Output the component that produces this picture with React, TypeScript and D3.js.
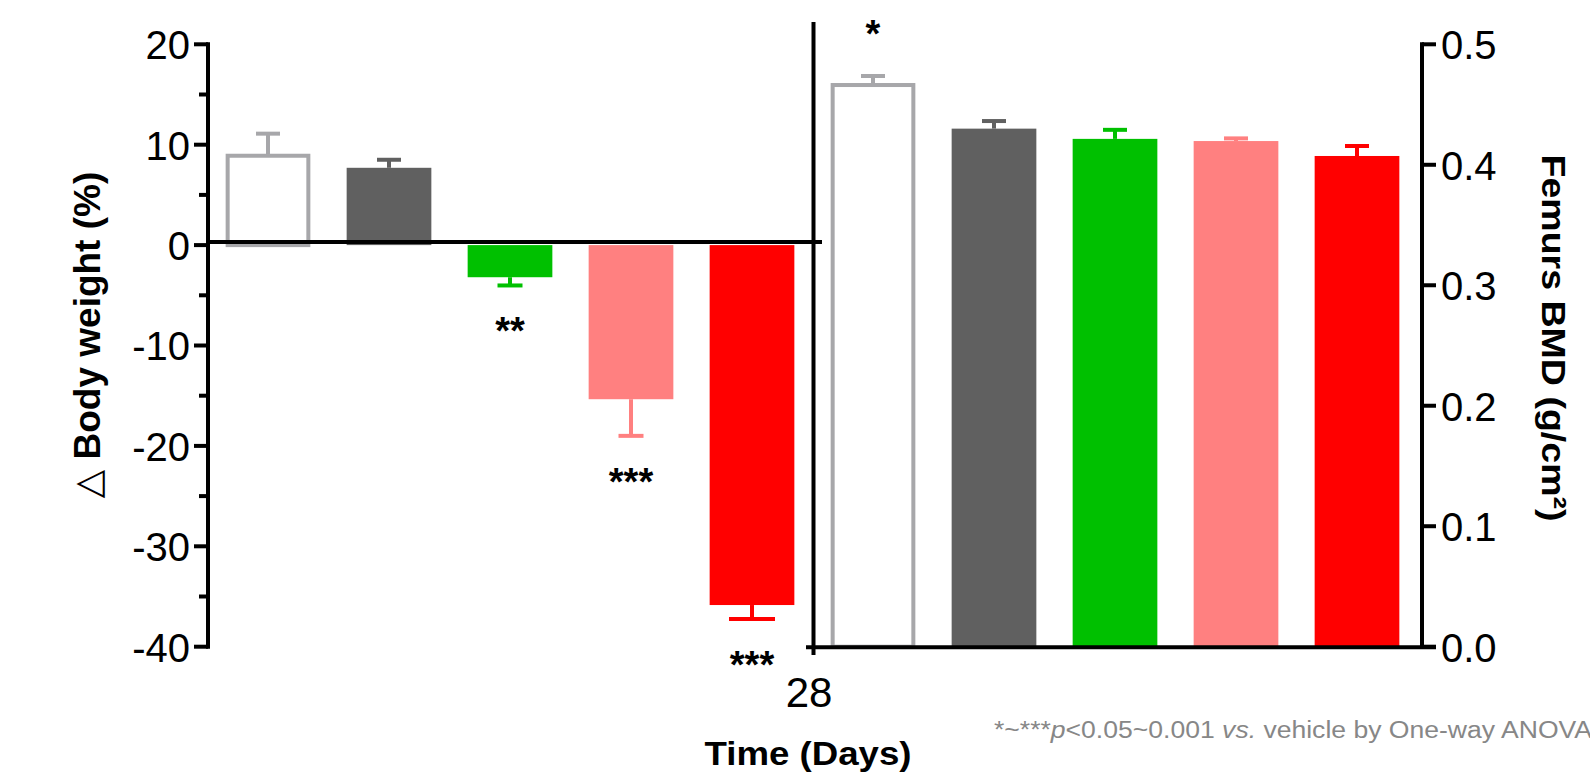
import React from "react";
import * as d3 from "d3";

// ---------- data ----------
const groups = ["Normal", "Vehicle", "Low dose", "Mid dose", "High dose"];
const groupColors = ["#a7a7aa", "#606060", "#00c000", "#ff8080", "#ff0000"];
const groupOutlined = [true, false, false, false, false];

const bodyWeightChange = [8.9, 7.7, -3.2, -15.35, -35.85];
const bodyWeightSem = [2.2, 0.8, 0.82, 3.65, 1.4];
const bodyWeightSig = ["", "", "**", "***", "***"];

const femurBmd = [0.4662, 0.43, 0.4215, 0.4197, 0.4073];
const femurBmdSem = [0.0075, 0.0063, 0.0075, 0.0022, 0.0083];
const femurBmdSig = ["*", "", "", "", ""];

const leftMajorTicks = [20, 10, 0, -10, -20, -30, -40];
const leftMinorTicks = [15, 5, -5, -15, -25, -35];
const rightTicks = [0.5, 0.4, 0.3, 0.2, 0.1, 0.0];
const timePointLabel = "28";

const leftCapWidths = [24, 24, 25, 25, 46];
const rightCapWidths = [24, 24, 24, 24, 24];

const FONT = "'Liberation Sans', Arial, Helvetica, sans-serif";

export default function App() {
  const W = 1590;
  const H = 779;
  const plotTop = 44.3;
  const plotBottom = 646.7;

  const yL = d3.scaleLinear().domain([-40, 20]).range([plotBottom, plotTop]);
  const yR = d3.scaleLinear().domain([0, 0.5]).range([plotBottom, plotTop]);
  const x = d3
    .scaleBand<number>()
    .domain(d3.range(10))
    .range([207.5, 1417.5])
    .paddingInner(0.3)
    .paddingOuter(0.15);
  const bw = x.bandwidth();

  const leftAxisX = 208;
  const rightAxisX = 1422;
  const dividerX = 813.5;
  const zeroY = yL(0) - 3;

  const sw = 4;

  const renderBar = (
    i: number,
    slot: number,
    value: number,
    err: number,
    base: number,
    yScale: d3.ScaleLinear<number, number>,
    capW: number
  ) => {
    const bx = x(slot) as number;
    const cx = bx + bw / 2;
    const yv = yScale(value);
    const ye = yScale(value >= 0 ? value + err : value - err);
    const color = groupColors[i];
    const top = Math.min(yv, base);
    const h = Math.abs(base - yv);
    return (
      <g key={`bar-${slot}`}>
        <line x1={cx} x2={cx} y1={yv} y2={ye} stroke={color} strokeWidth={sw} />
        <line
          x1={cx - capW / 2}
          x2={cx + capW / 2}
          y1={ye}
          y2={ye}
          stroke={color}
          strokeWidth={sw}
        />
        {groupOutlined[i] ? (
          <rect
            x={bx + sw / 2}
            y={top}
            width={bw - sw}
            height={h}
            fill="#ffffff"
            stroke={color}
            strokeWidth={sw}
          />
        ) : (
          <rect x={bx} y={top} width={bw} height={h} fill={color} />
        )}
      </g>
    );
  };

  return (
    <svg
      width={W}
      height={H}
      viewBox={`0 0 ${W} ${H}`}
      style={{ position: "absolute", left: 0, top: 0, background: "#ffffff" }}
      fontFamily={FONT}
    >
      <rect x={0} y={0} width={W} height={H} fill="#ffffff" />

      {/* left panel bars */}
      {groups.map((_, i) =>
        renderBar(i, i, bodyWeightChange[i], bodyWeightSem[i], yL(0), yL, leftCapWidths[i])
      )}

      {/* right panel bars */}
      {groups.map((_, i) =>
        renderBar(i, i + 5, femurBmd[i], femurBmdSem[i], yR(0), yR, rightCapWidths[i])
      )}

      {/* zero line */}
      <line x1={leftAxisX - 2} x2={822} y1={zeroY} y2={zeroY} stroke="#000" strokeWidth={sw} />

      {/* divider / x tick */}
      <line x1={dividerX} x2={dividerX} y1={22} y2={655} stroke="#000" strokeWidth={sw} />

      {/* bottom line of BMD panel */}
      <line x1={806} x2={rightAxisX + 14} y1={yR(0) + 0.6} y2={yR(0) + 0.6} stroke="#000" strokeWidth={sw} />

      {/* left axis */}
      <line
        x1={leftAxisX}
        x2={leftAxisX}
        y1={yL(20) - 2}
        y2={yL(-40) + 2}
        stroke="#000"
        strokeWidth={sw}
      />
      {leftMajorTicks.map((t) => (
        <g key={`lt-${t}`}>
          <line x1={leftAxisX - 14} x2={leftAxisX} y1={yL(t)} y2={yL(t)} stroke="#000" strokeWidth={sw} />
          <text
            x={leftAxisX - 18}
            y={yL(t)}
            dy="0.37em"
            textAnchor="end"
            fontSize={40}
            fill="#000"
          >
            {t}
          </text>
        </g>
      ))}
      {leftMinorTicks.map((t) => (
        <line
          key={`lm-${t}`}
          x1={leftAxisX - 9}
          x2={leftAxisX}
          y1={yL(t)}
          y2={yL(t)}
          stroke="#000"
          strokeWidth={sw}
        />
      ))}

      {/* right axis */}
      <line
        x1={rightAxisX}
        x2={rightAxisX}
        y1={yR(0.5) - 2}
        y2={yR(0) + 2}
        stroke="#000"
        strokeWidth={sw}
      />
      {rightTicks.map((t) => (
        <g key={`rt-${t}`}>
          <line x1={rightAxisX} x2={rightAxisX + 14} y1={yR(t)} y2={yR(t)} stroke="#000" strokeWidth={sw} />
          <text
            x={rightAxisX + 19}
            y={yR(t)}
            dy="0.37em"
            textAnchor="start"
            fontSize={40}
            fill="#000"
          >
            {d3.format(".1f")(t)}
          </text>
        </g>
      ))}

      {/* significance marks */}
      {bodyWeightSig.map((s, i) =>
        s ? (
          <text
            key={`bs-${i}`}
            x={(x(i) as number) + bw / 2}
            y={yL(bodyWeightChange[i] - bodyWeightSem[i]) + 59}
            textAnchor="middle"
            fontSize={38}
            fontWeight="bold"
            fill="#000"
          >
            {s}
          </text>
        ) : null
      )}
      {femurBmdSig.map((s, i) =>
        s ? (
          <text
            key={`fs-${i}`}
            x={(x(i + 5) as number) + bw / 2}
            y={yR(femurBmd[i] + femurBmdSem[i]) - 29}
            textAnchor="middle"
            fontSize={38}
            fontWeight="bold"
            fill="#000"
          >
            {s}
          </text>
        ) : null
      )}

      {/* x tick label */}
      <text x={809} y={707} textAnchor="middle" fontSize={42} fill="#000">
        {timePointLabel}
      </text>

      {/* x axis title */}
      <text
        x={808}
        y={765}
        textAnchor="middle"
        fontSize={33}
        fontWeight="bold"
        fill="#000"
        textLength={207}
        lengthAdjust="spacingAndGlyphs"
      >
        Time (Days)
      </text>

      {/* left y title */}
      <text
        transform={`translate(100, 335) rotate(-90)`}
        textAnchor="middle"
        fontSize={37}
        fontWeight="bold"
        fill="#000"
      >
        <tspan fontWeight="normal" fontFamily="'DejaVu Sans', sans-serif">
          △
        </tspan>
        {" Body weight (%)"}
      </text>

      {/* right y title */}
      <text
        transform={`translate(1542, 338) rotate(90)`}
        textAnchor="middle"
        fontSize={33}
        fontWeight="bold"
        fill="#000"
        textLength={367}
        lengthAdjust="spacingAndGlyphs"
      >
        Femurs BMD (g/cm²)
      </text>

      {/* footnote */}
      <text
        x={994}
        y={738}
        fontSize={23}
        fill="#878787"
        textLength={598}
        lengthAdjust="spacingAndGlyphs"
      >
        *~***
        <tspan fontStyle="italic">p</tspan>
        {"<0.05~0.001 "}
        <tspan fontStyle="italic">vs.</tspan>
        {" vehicle by One-way ANOVA"}
      </text>
    </svg>
  );
}
